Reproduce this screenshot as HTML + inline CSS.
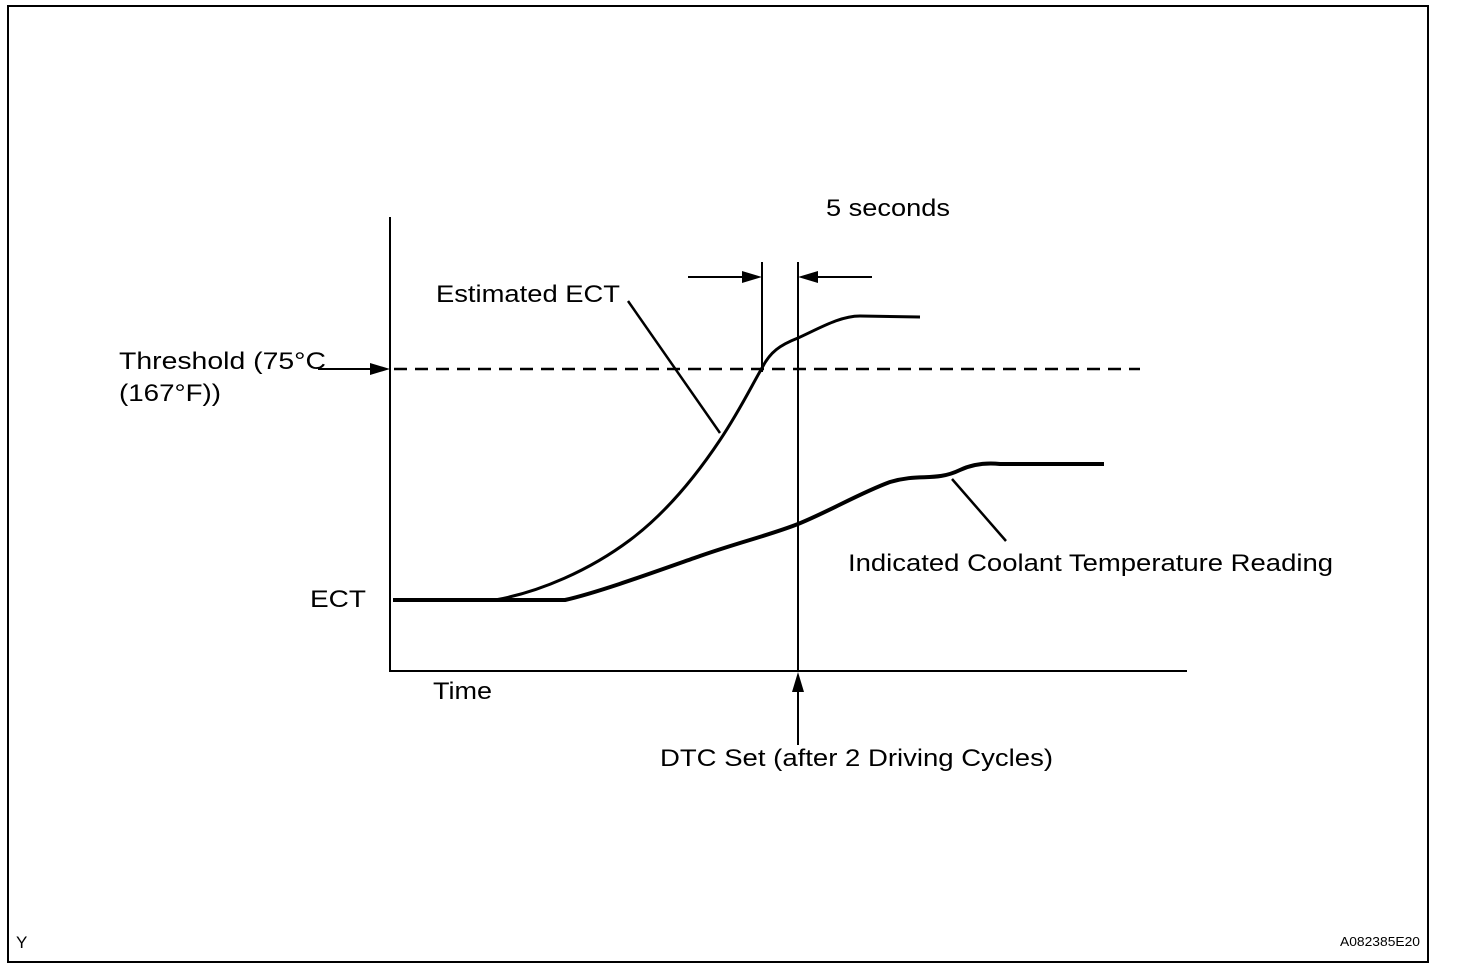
<!DOCTYPE html>
<html><head><style>body{margin:0;background:#fff}svg{display:block}text{font-family:"Liberation Sans",Arial,sans-serif;fill:#000}</style></head>
<body>
<svg width="1472" height="980" viewBox="0 0 1472 980">
<rect x="8" y="6" width="1420" height="956" fill="none" stroke="#000" stroke-width="2"/>
<line x1="390" y1="217" x2="390" y2="672" stroke="#000" stroke-width="2"/>
<line x1="389" y1="671" x2="1187" y2="671" stroke="#000" stroke-width="2"/>
<line x1="394" y1="369" x2="1140" y2="369" stroke="#000" stroke-width="2.5" stroke-dasharray="13,8"/>
<line x1="318" y1="369" x2="372" y2="369" stroke="#000" stroke-width="2"/>
<polygon points="390,369 370,363 370,375" fill="#000"/>
<line x1="762" y1="262" x2="762" y2="372" stroke="#000" stroke-width="2"/>
<line x1="798" y1="262" x2="798" y2="672" stroke="#000" stroke-width="2"/>
<line x1="688" y1="277" x2="744" y2="277" stroke="#000" stroke-width="2"/>
<polygon points="762,277 742,271 742,283" fill="#000"/>
<line x1="816" y1="277" x2="872" y2="277" stroke="#000" stroke-width="2"/>
<polygon points="798,277 818,271 818,283" fill="#000"/>
<line x1="798" y1="690" x2="798" y2="745" stroke="#000" stroke-width="2"/>
<polygon points="798,672 792,692 804,692" fill="#000"/>
<path d="M393,600 L495,600 C540,592 590,570 630,540 C670,510 700,470 720,440 C740,410 752,385 762,368 C770,352 780,345 798,338 C820,328 840,316 860,316 L920,317" fill="none" stroke="#000" stroke-width="3"/>
<path d="M393,600 L565,600 C600,592 660,570 700,556 C740,542 770,535 798,524 C830,511 860,493 890,482 C920,473 935,482 960,470 C975,463 990,463 1000,464 L1104,464" fill="none" stroke="#000" stroke-width="4"/>
<line x1="628" y1="301" x2="720" y2="433" stroke="#000" stroke-width="2.5"/>
<line x1="952" y1="479" x2="1006" y2="541" stroke="#000" stroke-width="2.5"/>
<g font-size="24" lengthAdjust="spacingAndGlyphs">
<text x="826" y="216" textLength="124" lengthAdjust="spacingAndGlyphs">5 seconds</text>
<text x="436" y="302" textLength="184" lengthAdjust="spacingAndGlyphs">Estimated ECT</text>
<text x="119" y="369" textLength="207" lengthAdjust="spacingAndGlyphs">Threshold  (75°C</text>
<text x="119" y="401" textLength="102" lengthAdjust="spacingAndGlyphs">(167°F))</text>
<text x="310" y="607" textLength="56" lengthAdjust="spacingAndGlyphs">ECT</text>
<text x="433" y="699" textLength="59" lengthAdjust="spacingAndGlyphs">Time</text>
<text x="848" y="571" textLength="485" lengthAdjust="spacingAndGlyphs">Indicated Coolant Temperature Reading</text>
<text x="660" y="766" textLength="393" lengthAdjust="spacingAndGlyphs">DTC Set (after 2 Driving Cycles)</text>
</g>
<text x="16" y="948" font-size="17">Y</text>
<text x="1340" y="946" font-size="13" textLength="80" lengthAdjust="spacingAndGlyphs">A082385E20</text>
</svg>
</body></html>
